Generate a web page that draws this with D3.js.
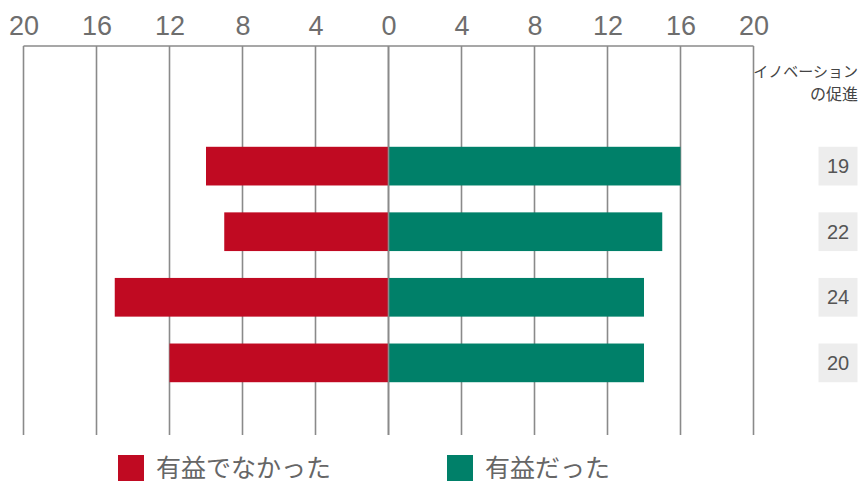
<!DOCTYPE html>
<html>
<head>
<meta charset="utf-8">
<script src="https://cdn.jsdelivr.net/npm/d3@7"></script>
<style>
  body { margin: 0; background: #fff; }
  svg { display: block; }
</style>
</head>
<body>
<div id="chart"></div>
<script>
// chart data
const categories = ["c1", "c2", "c3", "c4"];
const notUseful = [10, 9, 15, 12];   // 有益でなかった
const useful = [16, 15, 14, 14];     // 有益だった
const innovation = [19, 22, 24, 20]; // イノベーションの促進
const tickValues = [-20, -16, -12, -8, -4, 0, 4, 8, 12, 16, 20];
const seriesNames = ["有益でなかった", "有益だった"];

const width = 866;
const height = 484;
const red = "#c00a22";
const green = "#008069";

const svg = d3.select("#chart")
  .append("svg")
  .attr("width", width)
  .attr("height", height);

const x = d3.scaleLinear().domain([-20, 20]).range([23.5, 753.5]);
const y = d3.scaleBand().domain(categories).range([114, 415]).paddingInner(0.41).paddingOuter(0.5);

const gridTop = 46, gridBottom = 435;

// grid lines
svg.append("g")
  .selectAll("line")
  .data(tickValues)
  .enter().append("line")
  .attr("x1", d => x(d)).attr("x2", d => x(d))
  .attr("y1", gridTop).attr("y2", gridBottom)
  .attr("stroke", "#8a8a8a")
  .attr("stroke-width", 1.6);

svg.append("line")
  .attr("x1", x(-20)).attr("x2", x(20))
  .attr("y1", gridTop).attr("y2", gridTop)
  .attr("stroke", "#8a8a8a")
  .attr("stroke-width", 1.6);

// top axis labels
const axis = d3.axisTop(x).tickValues(tickValues).tickSize(0).tickFormat(d => Math.abs(d));
const axisG = svg.append("g")
  .attr("transform", `translate(0,${gridTop - 8})`)
  .call(axis);
axisG.select(".domain").remove();
axisG.selectAll("text")
  .attr("fill", "#6e6e6e")
  .attr("font-family", "'Liberation Sans', Arial, sans-serif")
  .attr("font-size", 27);

// bars
svg.append("g")
  .selectAll("rect")
  .data(categories)
  .enter().append("rect")
  .attr("x", (d, i) => x(-notUseful[i]))
  .attr("y", d => y(d))
  .attr("width", (d, i) => x(0) - x(-notUseful[i]))
  .attr("height", y.bandwidth())
  .attr("fill", red);

svg.append("g")
  .selectAll("rect")
  .data(categories)
  .enter().append("rect")
  .attr("x", x(0))
  .attr("y", d => y(d))
  .attr("width", (d, i) => x(useful[i]) - x(0))
  .attr("height", y.bandwidth())
  .attr("fill", green);

// zero line on top
svg.append("line")
  .attr("x1", x(0)).attr("x2", x(0))
  .attr("y1", gridTop).attr("y2", gridBottom)
  .attr("stroke", "#8a8a8a")
  .attr("stroke-width", 1.6);

// right column: innovation
const colX = 838;
svg.append("text")
  .attr("x", 858).attr("y", 77)
  .attr("text-anchor", "end")
  .attr("fill", "#444")
  .attr("font-family", "'Noto Sans CJK JP', sans-serif")
  .attr("font-size", 15)
  .text("イノベーション");
svg.append("text")
  .attr("x", 858).attr("y", 100)
  .attr("text-anchor", "end")
  .attr("fill", "#444")
  .attr("font-family", "'Noto Sans CJK JP', sans-serif")
  .attr("font-size", 16)
  .text("の促進");

const cells = svg.append("g")
  .selectAll("g")
  .data(categories)
  .enter().append("g");

cells.append("rect")
  .attr("x", colX - 19.5)
  .attr("y", d => y(d))
  .attr("width", 39)
  .attr("height", y.bandwidth())
  .attr("fill", "#ededed");

cells.append("text")
  .attr("x", colX)
  .attr("y", d => y(d) + y.bandwidth() / 2 + 7)
  .attr("text-anchor", "middle")
  .attr("fill", "#555")
  .attr("font-family", "'Liberation Sans', Arial, sans-serif")
  .attr("font-size", 20)
  .text((d, i) => innovation[i]);

// legend
const legend = svg.append("g")
  .selectAll("g")
  .data(seriesNames)
  .enter().append("g")
  .attr("transform", (d, i) => `translate(${i === 0 ? 118 : 447},455)`);

legend.append("rect")
  .attr("width", 26).attr("height", 26)
  .attr("fill", (d, i) => i === 0 ? red : green);

legend.append("text")
  .attr("x", 38).attr("y", 22)
  .attr("fill", "#666")
  .attr("font-family", "'Noto Sans CJK JP', sans-serif")
  .attr("font-size", 25)
  .text(d => d);
</script>
</body>
</html>
